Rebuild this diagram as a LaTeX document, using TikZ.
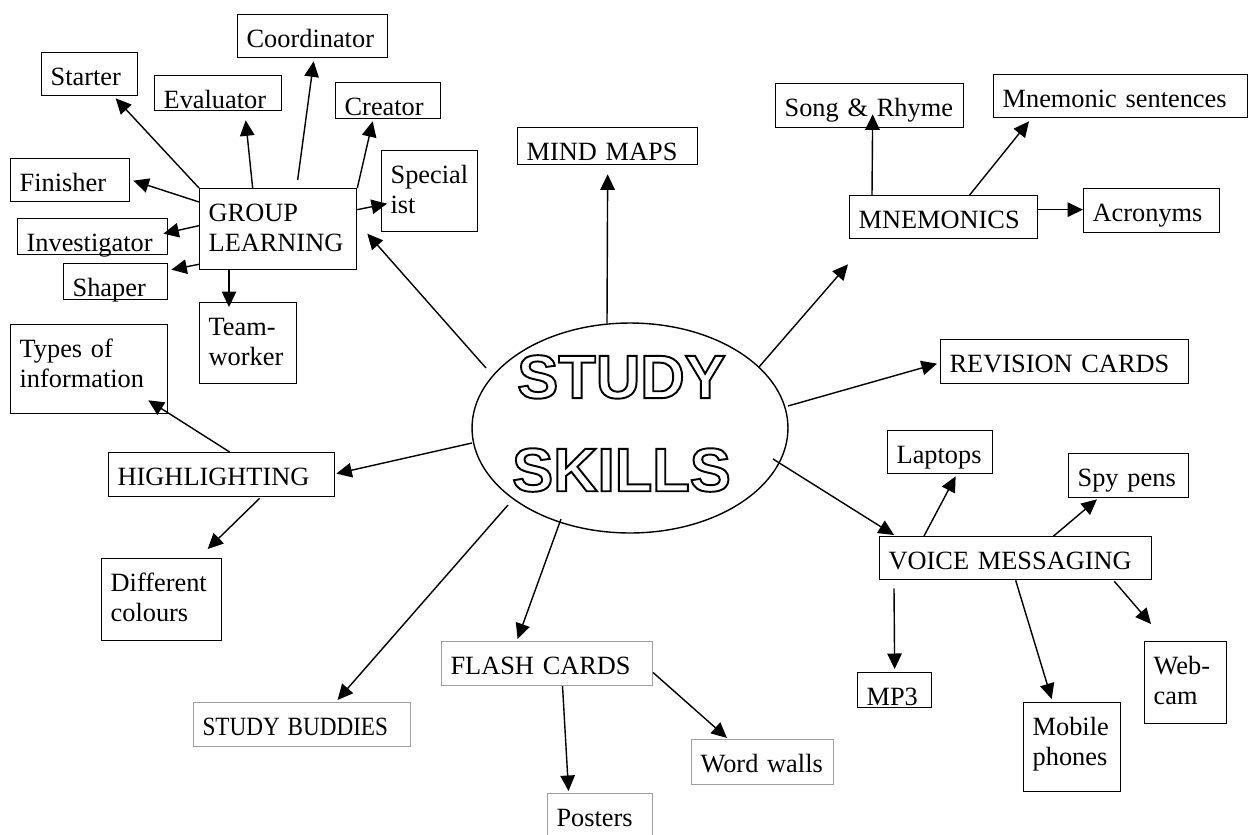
\documentclass[tikz,border=0pt]{standalone}
\usepackage{fontspec}
\setmainfont{Liberation Serif}
\newfontfamily\skillsfont{Liberation Sans}
\usepackage{graphicx}
\usetikzlibrary{arrows.meta,calc,shapes.geometric}
\hyphenpenalty=10000
\newcommand{\hollow}[1]{\special{pdf:literal direct 1 Tr 1.1 w}#1\special{pdf:literal direct 0 Tr}}
\begin{document}
\begin{tikzpicture}[
    x=0.02cm,y=-0.02cm,
    every node/.style={font=\fontsize{15}{17}\selectfont},
    box/.style 2 args={draw, line width=0.75pt, anchor=north west, inner xsep=0.18cm, inner ysep=0pt, align=left, text width=#1*0.02cm-0.36cm, text height=0.66cm, text depth=#2*0.02cm-0.66cm},
    pale/.style={draw=gray!75, line width=0.6pt},
    arrow/.style={-{Triangle[length=3.1mm,width=2.9mm]}, line width=0.8pt}
  ]
    \path[use as bounding box, fill=white] (0,0) rectangle (1248,835);
    \foreach \name/\x/\y/\w/\h/\lab in {starter/41/52/96/43/Starter, evaluator/154/75/127/35/Evaluator, coordinator/237/14/150/43/Coordinator, creator/335/82/105/36/Creator, special/381/150/96/81/{Special\\ist}, finisher/10/158/119/43/Finisher, group/199/188/157/81/{GROUP\\LEARNING}, investigator/17/218/150/36/Investigator, shaper/63/263/104/36/Shaper, team/199/302/97/81/{Team-\\worker}, types/10/324/157/89/{Types of\\information}, highlight/108/452/226/44/HIGHLIGHTING, colours/101/558/120/82/{Different\\colours}, mindmaps/517/127/180/37/MIND MAPS, song/775/83/188/44/Song \& Rhyme, mnemonics/849/195/188/43/MNEMONICS, sentences/993/74/254/43/Mnemonic sentences, acronyms/1083/188/136/44/Acronyms, revision/940/339/248/44/REVISION CARDS, laptops/887/430/105/43/Laptops, spypens/1068/453/120/44/Spy pens, voice/879/536/272/43/VOICE MESSAGING, mp3/857/672/74/35/MP3, mobile/1023/702/97/89/{Mobile\\phones}, webcam/1144/641/82/82/{Web-\\cam}} {
      \node[box={\w}{\h}] (\name) at (\x,\y) {\lab};
    }
    \foreach \name/\x/\y/\w/\h/\lab in {flash/441/641/211/44/FLASH CARDS, buddies/193/702/217/44/{\scalebox{0.88}[1]{STUDY BUDDIES}}, posters/547/793/105/47/Posters, wordwalls/691/739/142/45/Word walls} {
      \node[box={\w}{\h}, pale] (\name) at (\x,\y) {\lab};
    }
    \node[draw, ellipse, line width=0.8pt, minimum width=6.32cm, minimum height=4.2cm, inner sep=0pt] (skills) at (630,428) {};
    \node[font=\skillsfont\bfseries\fontsize{35}{53}\selectfont, align=center] (title) at (621.5,423.5) {\hollow{STUDY}\\\hollow{SKILLS}};
    \draw[arrow] (group.north west) -- ($(starter.south)+(26,2)$);
    \draw[arrow] ($(group.north)+(-25.5,0)$) -- ($(evaluator.south)+(27.5,9)$);
    \draw[arrow] ($(group.north)+(19.5,-8)$) -- ($(coordinator.south)+(1,3)$);
    \draw[arrow] (group.north east) -- ($(creator.south)+(-15.5,2)$);
    \draw[arrow] ($(group.east)+(0,-19.5)$) -- ($(special.west)+(6,12.5)$);
    \draw[arrow] ($(group.north west)+(0,14)$) -- ($(finisher.east)+(3,0.5)$);
    \draw[arrow] ($(group.west)+(0,-3.5)$) -- ($(investigator.east)+(-5,-3)$);
    \draw[arrow] ($(group.south west)+(0,-6)$) -- ($(shaper.east)+(3,-12)$);
    \draw[arrow] ($(group.south west)+(30,0)$) -- ($(team.north west)+(30,5)$);
    \draw[arrow] ($(skills)+(-144,-60)$) -- ($(group.east)+(10,4.5)$);
    \draw[arrow] ($(skills)+(-23,-105)$) -- ($(mindmaps.south)+(0,9)$);
    \draw[arrow] ($(skills)+(129,-61)$) -- ($(mnemonics.south west)+(-1,25)$);
    \draw[arrow] ($(skills)+(158,-22)$) -- ($(revision.west)+(-3,2)$);
    \draw[arrow] ($(skills)+(143,31)$) -- ($(voice.north west)+(15,-1)$);
    \draw[arrow] ($(skills)+(-158,15)$) -- ($(highlight.east)+(1,-1)$);
    \draw[arrow] ($(skills)+(-122,77)$) -- ($(buddies.north)+(35.5,-2)$);
    \draw[arrow] ($(skills)+(-69,91)$) -- ($(flash.north)+(-29.5,-2)$);
    \draw[arrow] ($(highlight.north)+(8,0)$) -- ($(types.south east)+(-20,-14)$);
    \draw[arrow] ($(highlight.south)+(38,1)$) -- ($(colours.north)+(46,-9)$);
    \draw[arrow] ($(mnemonics.north west)+(23,0)$) -- ($(song.south)+(3,-14)$);
    \draw[arrow] ($(mnemonics.north)+(26,0)$) -- ($(sentences.south west)+(36,3)$);
    \draw[arrow] ($(mnemonics.east)+(0,-7.5)$) -- ($(acronyms.west)+(0,-1)$);
    \draw[arrow] ($(voice.north west)+(45,0)$) -- ($(laptops.south)+(15.5,2)$);
    \draw[arrow] ($(voice.north)+(38,0)$) -- ($(spypens.south west)+(29,1)$);
    \draw[arrow] ($(voice.south west)+(15,8)$) -- ($(mp3.north)+(0,-3)$);
    \draw[arrow] (voice.south) -- ($(mobile.north)+(-20.5,-3)$);
    \draw[arrow] ($(voice.south east)+(-38,1)$) -- ($(webcam.north west)+(7,-17)$);
    \draw[arrow] ($(flash.south)+(15.5,0)$) -- ($(posters.north)+(-31.5,-2)$);
    \draw[arrow] ($(flash.east)+(0,9)$) -- ($(wordwalls.north west)+(36,-1)$);
  \end{tikzpicture}
\end{document}
